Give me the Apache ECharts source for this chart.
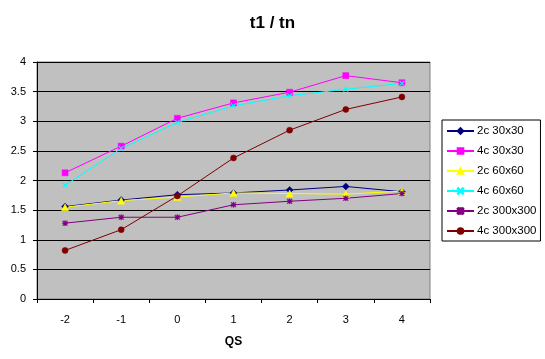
<!DOCTYPE html>
<html>
<head>
<meta charset="utf-8">
<script src="https://cdn.jsdelivr.net/npm/echarts@6/dist/echarts.min.js"></script>
<style>
html,body{margin:0;padding:0;background:#fff;}
#chart{width:545px;height:359px;}
</style>
</head>
<body>
<div id="chart"></div>
<script>
var categories = ['-2', '-1', '0', '1', '2', '3', '4'];
var names = ['2c 30x30', '4c 30x30', '2c 60x60', '4c 60x60', '2c 300x300', '4c 300x300'];
var s2c30 = [1.56, 1.67, 1.76, 1.79, 1.84, 1.90, 1.81];
var s4c30 = [2.13, 2.58, 3.05, 3.31, 3.49, 3.77, 3.65];
var s2c60 = [1.55, 1.66, 1.72, 1.79, 1.78, 1.77, 1.82];
var s4c60 = [1.92, 2.54, 2.98, 3.26, 3.43, 3.54, 3.64];
var s2c300 = [1.28, 1.38, 1.38, 1.59, 1.65, 1.70, 1.78];
var s4c300 = [0.82, 1.17, 1.74, 2.38, 2.85, 3.20, 3.41];
var yTicks = [0, 0.5, 1, 1.5, 2, 2.5, 3, 3.5, 4];

var FONT = '"Liberation Sans", Arial, sans-serif';
var xPath = 'path://M0,1L1,0L5,4L9,0L10,1L6,5L10,9L9,10L5,6L1,10L0,9L4,5Z';
var starPath = 'path://M0,1L1,0L5,4L9,0L10,1L6,5L10,9L9,10L5,6L1,10L0,9L4,5Z M4,0L6,0L6,10L4,10Z M0,4L10,4L10,6L0,6Z';

function mk(name, data, color, symbol, size) {
  return {
    name: name, type: 'line', data: data,
    symbol: symbol, symbolSize: size,
    lineStyle: {color: color, width: 1},
    itemStyle: {color: color, borderColor: color, borderWidth: 0.5},
    emphasis: {disabled: true},
    animation: false
  };
}

var chart = echarts.init(document.getElementById('chart'), null, {renderer: 'canvas'});
chart.setOption({
  animation: false,
  backgroundColor: '#ffffff',
  title: {
    text: 't1 / tn', left: 'center', top: 10,
    textStyle: {fontFamily: FONT, fontSize: 17, fontWeight: 'bold', color: '#000'}
  },
  grid: {
    left: 37, top: 62, width: 393, height: 237,
    show: true, backgroundColor: '#c0c0c0', borderColor: '#808080', borderWidth: 1
  },
  legend: {
    orient: 'vertical', left: 442, top: 120, width: 99,
    padding: [5, 4, 4, 4],
    itemGap: 8, itemWidth: 27, itemHeight: 7,
    borderColor: '#000', borderWidth: 1, backgroundColor: '#fff',
    textStyle: {fontFamily: FONT, fontSize: 11.5, color: '#000', padding: [0, 0, 0, -2]},
    data: names
  },
  xAxis: {
    type: 'category', data: categories, boundaryGap: true,
    name: 'QS', nameLocation: 'middle', nameGap: 37,
    nameTextStyle: {fontFamily: FONT, fontSize: 12, fontWeight: 'bold', color: '#000'},
    axisLine: {lineStyle: {color: '#000', width: 1}},
    axisTick: {show: true, length: 4, lineStyle: {color: '#000'}},
    axisLabel: {fontFamily: FONT, fontSize: 11, color: '#000', margin: 15},
    splitLine: {show: false}
  },
  yAxis: {
    type: 'value', min: 0, max: 4, interval: 0.5,
    axisLine: {show: true, lineStyle: {color: '#000', width: 1}},
    axisTick: {show: true, length: 4, lineStyle: {color: '#000'}},
    axisLabel: {fontFamily: FONT, fontSize: 11, color: '#000', margin: 11,
      formatter: function (v) { return String(v); }},
    splitLine: {show: true, lineStyle: {color: '#000', width: 1}}
  },
  series: [
    mk(names[0], s2c30, '#000080', 'diamond', 7),
    mk(names[1], s4c30, '#ff00ff', 'rect', 6),
    mk(names[2], s2c60, '#ffff00', 'triangle', 7),
    mk(names[3], s4c60, '#00ffff', xPath, 5),
    mk(names[4], s2c300, '#800080', starPath, 5),
    mk(names[5], s4c300, '#800000', 'circle', 6)
  ]
});
</script>
</body>
</html>
